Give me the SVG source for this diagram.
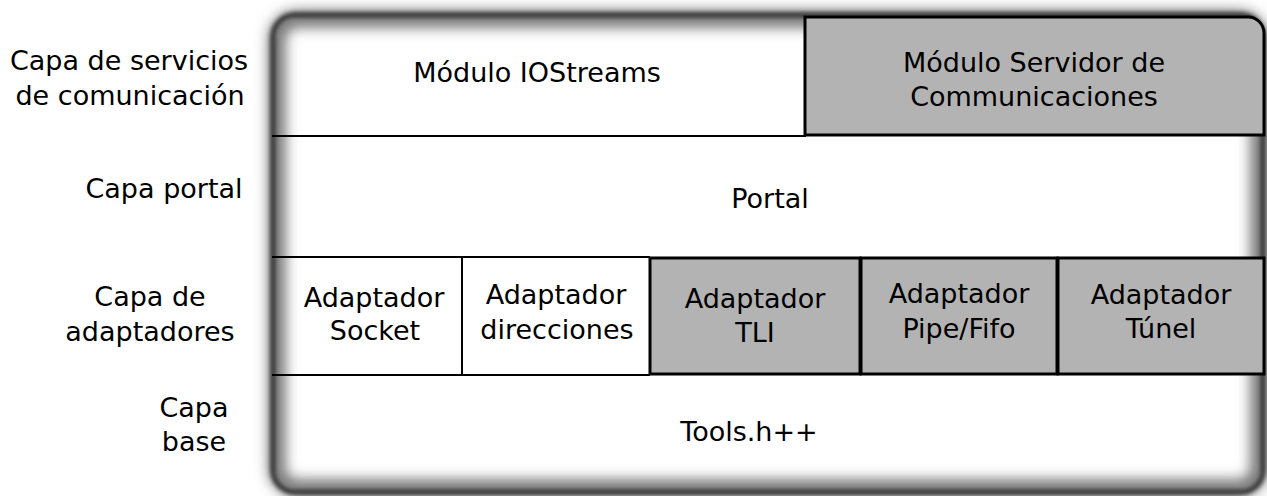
<svg xmlns="http://www.w3.org/2000/svg" width="1267" height="496" viewBox="0 0 1267 496">
  <defs>
    <filter id="haze" x="-5%" y="-10%" width="110%" height="120%">
      <feGaussianBlur stdDeviation="7"/>
    </filter>
    <filter id="rim" x="-5%" y="-5%" width="110%" height="110%">
      <feGaussianBlur stdDeviation="2.2"/>
    </filter>
  </defs>
  <style>
    text { font-family: "DejaVu Sans", "Liberation Sans", sans-serif; font-size: 27px; fill: #000; text-anchor: middle; }
    .rule { stroke: #000; stroke-width: 2; fill: none; }
    .grey { fill: #b3b3b3; stroke: #000; stroke-width: 3; }
  </style>

  <rect width="1267" height="496" fill="#fff"/>

  <!-- layer labels -->
  <g id="layer-labels">
    <text x="129" y="70">Capa de servicios</text>
    <text x="130" y="105">de comunicación</text>
    <text x="164" y="198">Capa portal</text>
    <text x="150" y="306">Capa de</text>
    <text x="150" y="341">adaptadores</text>
    <text x="194" y="417">Capa</text>
    <text x="194" y="451">base</text>
  </g>

  <!-- outer frame: soft grey haze with a darker rim -->
  <g id="frame">
    <rect x="277" y="19" width="982" height="469" rx="20" fill="none" stroke="#6a6a6a" stroke-width="16" filter="url(#haze)"/>
    <rect x="273" y="15" width="990" height="477" rx="22" fill="none" stroke="#2e2e2e" stroke-width="5" filter="url(#rim)"/>
  </g>

  <!-- separators -->
  <g id="connectors">
    <line class="rule" x1="272" y1="136" x2="806" y2="136"/>
    <line class="rule" x1="272" y1="257" x2="650" y2="257"/>
    <line class="rule" x1="272" y1="375" x2="650" y2="375"/>
  </g>

  <g id="iostreams">
    <text x="537" y="82">Módulo IOStreams</text>
  </g>

  <g id="servidor">
    <path class="grey" stroke-width="2.6" d="M805,135 V17 H1248 A16,16 0 0 1 1264,33 V135 Z"/>
    <text x="1034" y="72">Módulo Servidor de</text>
    <text x="1034" y="106">Communicaciones</text>
  </g>

  <g id="portal">
    <text x="770" y="208">Portal</text>
  </g>

  <g id="adaptador-socket">
    <text x="374" y="307">Adaptador</text>
    <text x="375" y="340">Socket</text>
  </g>

  <g id="adaptador-direcciones">
    <line class="rule" x1="462" y1="257" x2="462" y2="375"/>
    <text x="556" y="304">Adaptador</text>
    <text x="557" y="339">direcciones</text>
  </g>

  <g id="adaptador-tli">
    <rect class="grey" x="650" y="258" width="210" height="116"/>
    <text x="755" y="308">Adaptador</text>
    <text x="755" y="342">TLI</text>
  </g>

  <g id="adaptador-pipe">
    <rect class="grey" x="861" y="258" width="196" height="116"/>
    <text x="959" y="303">Adaptador</text>
    <text x="959" y="338">Pipe/Fifo</text>
  </g>

  <g id="adaptador-tunel">
    <rect class="grey" x="1058" y="258" width="206" height="116"/>
    <text x="1161" y="304">Adaptador</text>
    <text x="1161" y="338">Túnel</text>
  </g>

  <g id="tools">
    <text x="749" y="441">Tools.h++</text>
  </g>
</svg>
